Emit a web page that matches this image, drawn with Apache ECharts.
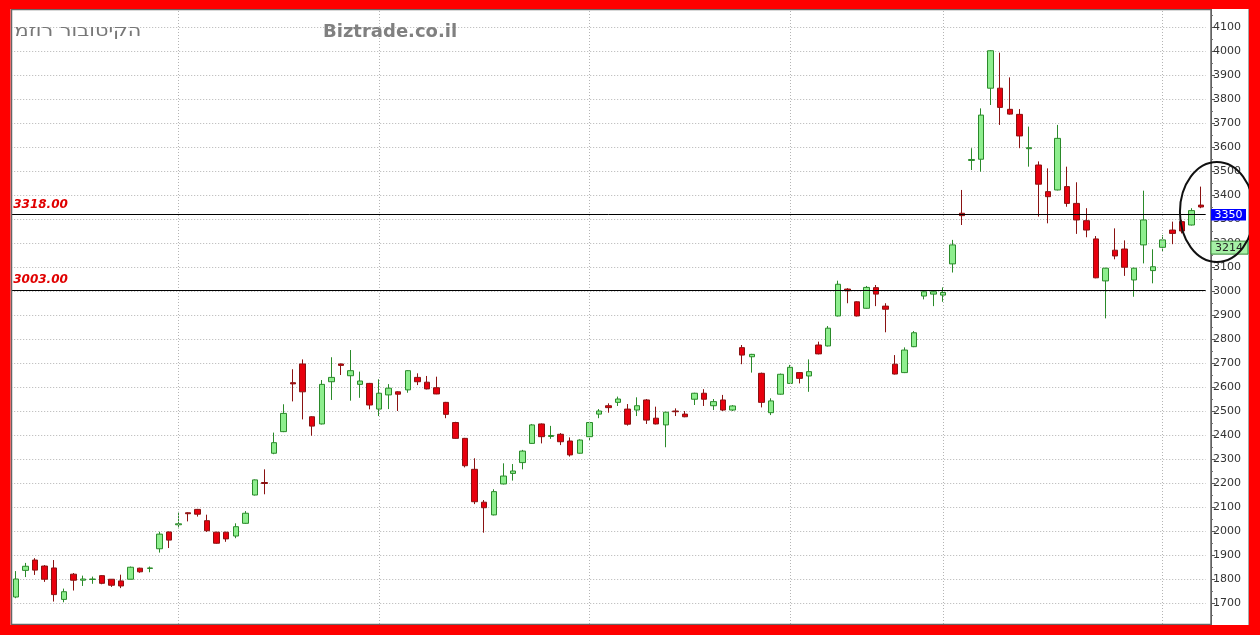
<!DOCTYPE html>
<html><head><meta charset="utf-8">
<script src="https://cdn.jsdelivr.net/npm/echarts@6/dist/echarts.min.js"></script>
<style>html,body{margin:0;padding:0;background:#fff;overflow:hidden}#main{width:1260px;height:635px}</style>
</head><body><div id="main"></div>
<script>
// ---- data ----
const opens  = [1725,1836,1879,1854,1846,1715,1820,1795,1798,1814,1799,1792,1799,1845,1844,1926,1996,2026,2076,2090,
                2043,1995,1995,1979,2032,2150,2202,2324,2414,2618,2696,2476,2446,2622,2696,2647,2611,2615,2508,2567,
                2580,2588,2640,2620,2597,2536,2452,2386,2257,2120,2067,2196,2240,2285,2365,2446,2394,2403,2375,2324,
                2393,2487,2522,2536,2508,2504,2546,2470,2442,2500,2487,2549,2574,2522,2546,2504,2764,2726,2657,2493,
                2570,2615,2660,2646,2775,2771,2896,3008,2955,2928,3014,2937,2695,2660,2768,2979,2987,2983,3113,3324,
                3544,3549,3845,3845,3757,3736,3593,3525,3414,3421,3435,3365,3293,3217,3042,3170,3175,3046,3192,3085,
                3182,3254,3289,3275,3358];
const closes = [1800,1853,1837,1799,1735,1747,1795,1800,1800,1782,1774,1771,1849,1830,1846,1987,1962,2030,2072,2070,
                2001,1949,1967,2018,2074,2213,2198,2368,2490,2613,2580,2437,2611,2640,2690,2668,2625,2525,2574,2595,
                2570,2668,2622,2592,2571,2486,2386,2272,2122,2097,2164,2229,2250,2333,2442,2393,2398,2372,2317,2379,
                2452,2500,2514,2550,2445,2522,2462,2446,2495,2497,2476,2574,2549,2539,2504,2521,2733,2736,2536,2542,
                2653,2682,2636,2664,2738,2845,3028,3001,2896,3015,2987,2924,2654,2754,2826,2997,2997,2994,3192,3314,
                3548,3733,4001,3765,3737,3646,3597,3445,3393,3636,3365,3296,3254,3055,3095,3146,3099,3095,3296,3101,
                3213,3240,3250,3335,3350];
const lows   = [1720,1808,1817,1788,1706,1703,1752,1771,1780,1778,1767,1762,1798,1826,1828,1910,1929,2011,2040,2060,
                1996,1947,1955,1970,2030,2148,2153,2320,2412,2540,2465,2397,2444,2546,2650,2543,2555,2507,2479,2508,
                2500,2576,2608,2590,2570,2470,2384,2265,2112,1993,2065,2194,2210,2257,2363,2365,2384,2358,2310,2322,
                2375,2470,2493,2521,2439,2479,2446,2444,2349,2479,2474,2525,2521,2504,2500,2500,2695,2660,2515,2483,
                2568,2613,2615,2580,2736,2769,2894,2949,2894,2926,2937,2828,2652,2658,2766,2965,2937,2955,3077,3275,
                3504,3497,3775,3692,3735,3595,3518,3310,3282,3419,3351,3238,3224,3053,2886,3132,3063,2976,3115,3032,
                3164,3195,3240,3273,3345];
const highs  = [1833,1867,1887,1858,1879,1760,1825,1814,1810,1816,1800,1818,1852,1847,1852,1997,1998,2080,2078,2092,
                2068,1997,1997,2032,2083,2215,2257,2410,2528,2674,2715,2478,2629,2724,2698,2754,2664,2617,2632,2612,
                2582,2670,2657,2646,2643,2538,2455,2388,2303,2129,2174,2282,2279,2338,2446,2448,2438,2408,2390,2382,
                2455,2508,2532,2560,2529,2557,2550,2518,2497,2511,2500,2576,2591,2550,2567,2525,2775,2738,2660,2553,
                2656,2692,2662,2715,2789,2854,3043,3012,2957,3021,3025,2949,2733,2765,2833,2999,2999,3015,3213,3421,
                3595,3761,4003,3993,3890,3758,3685,3540,3511,3692,3518,3453,3345,3229,3097,3261,3211,3097,3418,3174,
                3233,3289,3296,3345,3435];
const monthStartIdx = [17, 38, 60, 81, 97, 120];
const levelLines = [3318, 3003];
const lastPrice = 3350;
const secondPrice = 3214;
const yMin = 1600, yMax = 4200, yStep = 100;
const titleText = 'מזור רובוטיקה';
const siteText = 'Biztrade.co.il';

const categories = opens.map((_, i) => 'D' + (i + 1));
const candleData = opens.map((o, i) => [o, closes[i], lows[i], highs[i]]);

const chart = echarts.init(document.getElementById('main'), null, {renderer: 'canvas'});
const FONT = 'DejaVu Sans';

const option = {
  animation: false,
  backgroundColor: '#ffffff',
  grid: {left: 11.2, right: 54.3, top: 3, bottom: 8},
  xAxis: {
    type: 'category', data: categories, boundaryGap: true,
    axisLine: {show: false}, axisTick: {show: false}, axisLabel: {show: false},
    splitLine: {show: false}
  },
  yAxis: {
    type: 'value', position: 'right', offset: 5.3,
    min: yMin, max: yMax, interval: yStep,
    axisLine: {show: true, lineStyle: {color: '#555', width: 1}},
    axisTick: {show: true, inside: false, length: 4, lineStyle: {color: '#555'}},
    minorTick: {show: true, splitNumber: 2, length: 2, lineStyle: {color: '#777'}},
    axisLabel: {
      margin: 2, color: '#333', fontFamily: FONT, fontSize: 11,
      formatter: v => (v === yMin || v === yMax) ? '' : String(v)
    },
    splitLine: {show: true, lineStyle: {color: '#b4b4b4', type: [1, 2], width: 1}}
  },
  series: [
    {
      type: 'line', data: [], silent: true, z: 1,
      markLine: {
        silent: true, symbol: 'none', animation: false,
        label: {show: false},
        lineStyle: {color: '#b4b4b4', type: [1, 2], width: 1},
        data: monthStartIdx.map(i => ({xAxis: categories[i]}))
      }
    },
    {
      type: 'candlestick', data: candleData, barWidth: 6, z: 3,
      itemStyle: {
        color: '#8eee8e', color0: '#e8000e',
        borderColor: '#2a8a2a', borderColor0: '#8a1212', borderWidth: 1
      },
      markLine: {
        silent: true, symbol: 'none', animation: false,
        lineStyle: {color: '#000', type: 'solid', width: 1},
        label: {
          show: true, position: 'insideStartTop', distance: [2, 4],
          formatter: p => p.value.toFixed(2),
          color: '#e00000', fontFamily: FONT, fontSize: 12, fontWeight: 'bold', fontStyle: 'italic'
        },
        data: levelLines.map(v => ({yAxis: v}))
      }
    }
  ]
};
chart.setOption(option);

const yOf = v => chart.convertToPixel({yAxisIndex: 0}, v);
const xOf = i => chart.convertToPixel({xAxisIndex: 0}, i);
const axisX = 1211;
const yLast = yOf(lastPrice);
const ySecond = yOf(secondPrice);
const xLastCandle = xOf(categories.length - 1);

chart.setOption({
  graphic: [
    {type: 'rect', id: 'frame', z: 90, silent: true,
      shape: {x: 11.5, y: 9.5, width: axisX - 11.5, height: 615}, style: {fill: 'none', stroke: '#666', lineWidth: 1.5}},
    {type: 'line', id: 'rightedge', z: 90, silent: true,
      shape: {x1: 1248.5, y1: 9, x2: 1248.5, y2: 625}, style: {stroke: '#aaa', lineWidth: 1}},
    // the reference prints the Hebrew letters in left-to-right order
    {type: 'text', id: 'title', z: 95, x: 14.5, y: 32, scaleX: 1.3, scaleY: 1,
      style: {text: '\u202D' + titleText + '\u202C', fill: '#777777', font: 'normal 16px "DejaVu Sans"', verticalAlign: 'middle'}},
    {type: 'text', id: 'site', z: 95, x: 323, y: 32,
      style: {text: siteText, fill: '#808080', font: 'bold 18px "DejaVu Sans"', verticalAlign: 'middle'}},
    {type: 'group', id: 'lastLbl', z: 96, x: axisX, y: yLast + 2, children: [
      {type: 'rect', z: 96, shape: {x: 0, y: 0, width: 35, height: 11.5}, style: {fill: '#0000ff'}},
      {type: 'text', z: 97, x: 17.5, y: 6, style: {text: String(lastPrice), fill: '#fff', font: '11px "DejaVu Sans"', align: 'center', verticalAlign: 'middle'}}
    ]},
    {type: 'group', id: 'secLbl', z: 96, x: axisX, y: ySecond + 1.5, children: [
      {type: 'rect', z: 96, shape: {x: 0, y: 0, width: 37, height: 13}, style: {fill: '#a6f0a6', stroke: '#3a8a3a', lineWidth: 1}},
      {type: 'text', z: 97, x: 18, y: 7, style: {text: String(secondPrice), fill: '#222', font: '11px "DejaVu Sans"', align: 'center', verticalAlign: 'middle'}}
    ]},
    {type: 'ellipse', id: 'circle', z: 98, silent: true,
      shape: {cx: xLastCandle + 16, cy: yLast + 5, rx: 37, ry: 50}, style: {fill: 'none', stroke: '#111', lineWidth: 2}},
    {type: 'rect', id: 'bTop', z: 100, shape: {x: 0, y: 0, width: 1260, height: 9}, style: {fill: '#ff0000'}},
    {type: 'rect', id: 'bBot', z: 100, shape: {x: 0, y: 625, width: 1260, height: 10}, style: {fill: '#ff0000'}},
    {type: 'rect', id: 'bLeft', z: 100, shape: {x: 0, y: 0, width: 10.5, height: 635}, style: {fill: '#ff0000'}},
    {type: 'rect', id: 'bRight', z: 100, shape: {x: 1249, y: 0, width: 11, height: 635}, style: {fill: '#ff0000'}}
  ]
});
</script></body></html>
